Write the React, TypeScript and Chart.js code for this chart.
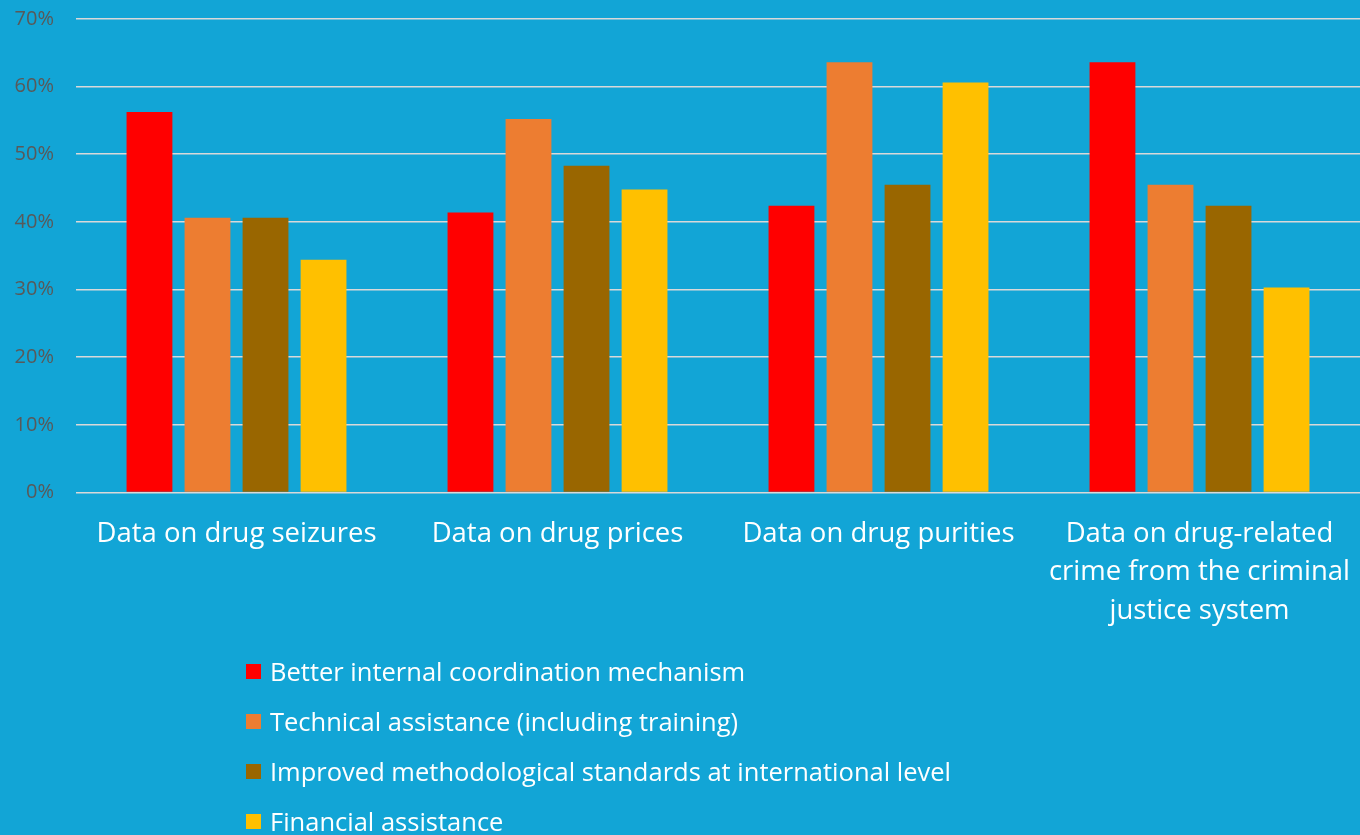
import React, { useEffect, useRef } from "react";
import { Chart, registerables } from "chart.js";

Chart.register(...registerables);

const categories: (string | string[])[] = [
  "Data on drug seizures",
  "Data on drug prices",
  "Data on drug purities",
  ["Data on drug-related", "crime from the criminal", "justice system"],
];

const seriesNames = [
  "Better internal coordination mechanism",
  "Technical assistance (including training)",
  "Improved methodological standards at international level",
  "Financial assistance",
];

const seriesColors = ["#FF0000", "#ED7D31", "#996600", "#FFC000"];

const betterCoordination = [56.25, 41.4, 42.4, 63.6];
const technicalAssistance = [40.6, 55.2, 63.6, 45.5];
const improvedStandards = [40.6, 48.3, 45.5, 42.4];
const financialAssistance = [34.4, 44.8, 60.6, 30.3];

const yTicks = [0, 10, 20, 30, 40, 50, 60, 70];

const BG = "#12A5D6";
const FONT = "'Open Sans', sans-serif";

export default function App() {
  const canvasRef = useRef<HTMLCanvasElement | null>(null);

  useEffect(() => {
    document.body.style.margin = "0";
    const canvas = canvasRef.current;
    if (!canvas) return;
    const values = [betterCoordination, technicalAssistance, improvedStandards, financialAssistance];
    const chart = new Chart(canvas, {
      type: "bar",
      data: {
        labels: categories,
        datasets: seriesNames.map((name, i) => ({
          label: name,
          data: values[i],
          backgroundColor: seriesColors[i],
          borderWidth: 0,
          categoryPercentage: 0.723,
          barPercentage: 0.79,
        })),
      },
      options: {
        animation: false,
        responsive: false,
        maintainAspectRatio: false,
        layout: { padding: { top: 19, left: 0, right: 0, bottom: 183 } },
        plugins: {
          legend: { display: false },
          tooltip: { enabled: false },
        },
        scales: {
          x: {
            grid: { display: false, drawTicks: false },
            border: { display: false },
            afterFit: (axis: any) => {
              axis.paddingLeft = 0;
              axis.paddingRight = 0;
            },
            ticks: {
              color: "#FFFFFF",
              font: { family: FONT, size: 27.5, lineHeight: 1.4 },
              padding: 22,
              autoSkip: false,
              maxRotation: 0,
              minRotation: 0,
            },
          },
          y: {
            min: 0,
            max: 70,
            afterBuildTicks: (axis: any) => {
              axis.ticks = yTicks.map((v) => ({ value: v }));
            },
            afterFit: (axis: any) => {
              axis.width = 76;
              axis.paddingTop = 0;
              axis.paddingBottom = 0;
            },
            grid: { color: "#D9D9D9", lineWidth: 1.6, drawTicks: false },
            border: { display: false },
            ticks: {
              color: "#595959",
              font: { family: FONT, size: 20 },
              padding: 22,
              callback: (v: any) => `${v}%`,
            },
          },
        },
      },
    });
    return () => chart.destroy();
  }, []);

  return (
    <div
      style={{
        position: "fixed",
        left: 0,
        top: 0,
        width: 1360,
        height: 835,
        background: BG,
        overflow: "hidden",
      }}
    >
      <canvas ref={canvasRef} width={1360} height={835} style={{ display: "block" }} />
      <div
        style={{
          position: "absolute",
          left: 246,
          top: 646,
          fontFamily: FONT,
          fontSize: 25.5,
          color: "#FFFFFF",
        }}
      >
        {seriesNames.map((name, i) => (
          <div
            key={name}
            style={{ display: "flex", alignItems: "center", height: 50, lineHeight: "40px" }}
          >
            <span
              style={{
                display: "inline-block",
                width: 15,
                height: 15,
                background: seriesColors[i],
                marginRight: 9,
              }}
            />
            <span>{name}</span>
          </div>
        ))}
      </div>
    </div>
  );
}
